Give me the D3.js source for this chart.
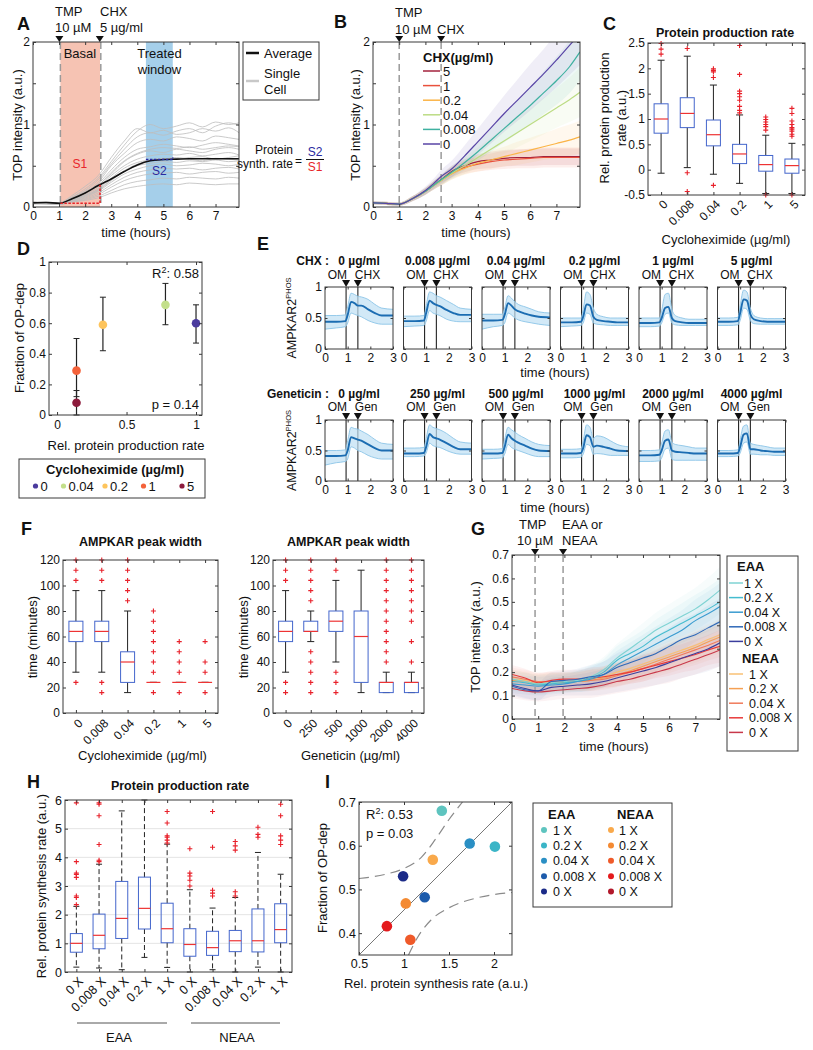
<!DOCTYPE html>
<html><head><meta charset="utf-8">
<script src="https://cdnjs.cloudflare.com/ajax/libs/d3/7.8.5/d3.min.js"></script>
<style>body{margin:0;background:#fff}</style>
</head><body>
<script>
// ================= DATA =================
// Panel A
const tA = [0,0.5,1,1.5,2,2.5,3,3.5,4,4.5,5,5.5,6,6.5,7,7.5,7.9];
const aAvg = [0.05,0.055,0.045,0.10,0.17,0.26,0.34,0.43,0.51,0.56,0.575,0.58,0.585,0.585,0.585,0.585,0.585];
const aCells = [
 [0.05,0.05,0.04,0.12,0.22,0.35,0.55,0.75,0.92,1.0,0.95,0.98,1.02,0.97,1.03,1.0,1.02],
 [0.06,0.06,0.05,0.14,0.25,0.38,0.6,0.8,0.95,0.9,0.93,0.88,0.9,0.95,0.92,0.96,0.9],
 [0.04,0.05,0.04,0.1,0.18,0.3,0.5,0.65,0.78,0.82,0.8,0.85,0.83,0.8,0.86,0.84,0.82],
 [0.05,0.04,0.04,0.1,0.17,0.28,0.45,0.6,0.7,0.73,0.76,0.74,0.72,0.75,0.78,0.76,0.74],
 [0.06,0.05,0.05,0.11,0.19,0.27,0.4,0.55,0.64,0.68,0.66,0.7,0.68,0.66,0.7,0.72,0.7],
 [0.05,0.05,0.04,0.09,0.15,0.24,0.38,0.5,0.58,0.62,0.64,0.63,0.65,0.62,0.64,0.66,0.63],
 [0.04,0.04,0.03,0.08,0.14,0.22,0.35,0.47,0.54,0.57,0.59,0.58,0.6,0.61,0.58,0.6,0.62],
 [0.05,0.05,0.04,0.08,0.13,0.2,0.32,0.43,0.5,0.53,0.55,0.54,0.56,0.55,0.57,0.55,0.56],
 [0.05,0.04,0.04,0.08,0.12,0.19,0.3,0.4,0.46,0.5,0.52,0.5,0.51,0.53,0.52,0.5,0.52],
 [0.04,0.04,0.03,0.07,0.11,0.17,0.27,0.36,0.42,0.45,0.47,0.46,0.47,0.45,0.47,0.48,0.46],
 [0.05,0.05,0.04,0.07,0.1,0.15,0.24,0.32,0.37,0.4,0.41,0.42,0.4,0.42,0.43,0.41,0.42],
 [0.04,0.04,0.03,0.06,0.09,0.13,0.2,0.27,0.31,0.33,0.35,0.34,0.36,0.35,0.34,0.36,0.35],
 [0.05,0.04,0.04,0.06,0.08,0.11,0.17,0.22,0.25,0.27,0.28,0.27,0.29,0.28,0.27,0.28,0.28],
 [0.06,0.05,0.05,0.12,0.2,0.33,0.52,0.7,0.85,0.9,0.87,0.92,0.95,0.9,0.98,1.02,0.99],
 [0.05,0.05,0.04,0.1,0.16,0.26,0.42,0.56,0.65,0.7,0.72,0.71,0.73,0.7,0.72,0.74,0.73],
 [0.04,0.04,0.04,0.09,0.14,0.21,0.33,0.44,0.52,0.56,0.58,0.6,0.58,0.56,0.59,0.58,0.57]
];
const aBasal = [1.05, 2.57];
const aTreated = [4.33, 5.36];
const aMarks = [1.05, 2.6];
const aS1 = [0.045, 0.27];
const aS2 = [0.575, 0.6];

// Panel B
const tB = [0,0.5,1,1.5,2,2.3,2.6,3,3.5,4,4.5,5,5.5,6,6.5,7,7.5,7.9];
const bLabels = ['5','1','0.2','0.04','0.008','0'];
const bColors = ['#a3223c','#e9513c','#fbb446','#bcdc84','#3fb1a1','#5844a6'];
const bMeans = [
 [0.05,0.045,0.035,0.10,0.19,0.26,0.33,0.43,0.50,0.55,0.57,0.59,0.60,0.60,0.61,0.61,0.61,0.61],
 [0.05,0.045,0.035,0.10,0.19,0.26,0.32,0.41,0.48,0.52,0.55,0.57,0.58,0.59,0.60,0.60,0.60,0.60],
 [0.05,0.045,0.035,0.10,0.19,0.26,0.32,0.40,0.47,0.53,0.57,0.61,0.65,0.69,0.73,0.77,0.81,0.85],
 [0.05,0.045,0.035,0.10,0.19,0.26,0.32,0.41,0.50,0.60,0.70,0.80,0.90,1.00,1.10,1.20,1.30,1.39],
 [0.05,0.045,0.035,0.10,0.19,0.26,0.33,0.42,0.54,0.67,0.81,0.95,1.09,1.23,1.38,1.53,1.70,1.88],
 [0.05,0.045,0.035,0.10,0.20,0.28,0.37,0.46,0.62,0.79,0.96,1.13,1.29,1.45,1.61,1.78,1.96,2.10]
];
const bSds = [
 [0.02,0.02,0.02,0.03,0.04,0.05,0.06,0.07,0.08,0.09,0.1,0.1,0.1,0.1,0.1,0.1,0.1,0.1],
 [0.02,0.02,0.02,0.03,0.04,0.05,0.06,0.07,0.08,0.09,0.1,0.11,0.11,0.12,0.12,0.12,0.12,0.12],
 [0.02,0.02,0.02,0.03,0.04,0.05,0.06,0.07,0.08,0.1,0.11,0.12,0.14,0.15,0.16,0.18,0.19,0.2],
 [0.02,0.02,0.02,0.03,0.04,0.05,0.06,0.08,0.1,0.12,0.14,0.16,0.18,0.2,0.22,0.24,0.27,0.3],
 [0.02,0.02,0.02,0.03,0.04,0.05,0.06,0.07,0.09,0.11,0.14,0.17,0.2,0.23,0.26,0.29,0.32,0.34],
 [0.02,0.02,0.02,0.03,0.05,0.06,0.08,0.1,0.13,0.16,0.19,0.22,0.25,0.28,0.3,0.33,0.36,0.38]
];
const bMarks = [1.0, 2.6];

// Panel C
const cCats = ['0','0.008','0.04','0.2','1','5'];
const cQ1 = [0.72,0.83,0.47,0.12,-0.03,-0.07];
const cMed = [1.0,1.11,0.69,0.31,0.10,0.08];
const cQ3 = [1.30,1.42,0.98,0.50,0.28,0.21];
const cLo = [-0.07,0.04,-0.09,-0.27,-0.47,-0.47];
const cHi = [2.16,2.24,1.67,1.08,0.68,0.52];
const cOut = [[2.28,2.38,2.49],[2.39,-0.06,-0.43],[1.99,1.96,1.93,1.82,-0.31],
  [2.45,1.88,1.55,1.5,1.44,1.37,1.25,1.17,1.12],[1.04,0.99,0.94,0.89,0.85,0.78,-0.5],
  [1.21,1.11,0.96,0.89,0.83,0.8,0.76,0.7,0.66,-0.5]];

// Panel D
const dCats = ['0','0.04','0.2','1','5'];
const dColors = ['#4b3b9e','#c3df8a','#fdc45c','#f4623a','#8c1b3c'];
const dX = [1.0, 0.78, 0.33, 0.14, 0.14];
const dY = [0.60, 0.72, 0.59, 0.29, 0.08];
const dLo = [0.47, 0.59, 0.42, 0.12, 0.0];
const dHi = [0.72, 0.86, 0.77, 0.50, 0.16];

// Panel E
const eT = [0,0.5,0.9,1.0,1.15,1.3,1.45,1.6,1.9,2.2,2.5,3.0];
const eChxTitles = ['0 µg/ml','0.008 µg/ml','0.04 µg/ml','0.2 µg/ml','1 µg/ml','5 µg/ml'];
const eGenTitles = ['0 µg/ml','250 µg/ml','500 µg/ml','1000 µg/ml','2000 µg/ml','4000 µg/ml'];
const eChxMean = [
 [0.44,0.44,0.45,0.55,0.76,0.74,0.70,0.70,0.64,0.58,0.54,0.54],
 [0.45,0.45,0.46,0.58,0.78,0.74,0.71,0.69,0.63,0.58,0.55,0.55],
 [0.46,0.46,0.47,0.55,0.74,0.70,0.64,0.61,0.57,0.54,0.52,0.51],
 [0.43,0.43,0.44,0.52,0.72,0.70,0.52,0.47,0.45,0.44,0.43,0.43],
 [0.42,0.42,0.43,0.50,0.66,0.68,0.50,0.45,0.43,0.42,0.42,0.42],
 [0.44,0.44,0.45,0.58,0.80,0.78,0.56,0.48,0.45,0.44,0.44,0.44]];
const eChxLo = [
 [0.32,0.34,0.36,0.42,0.58,0.56,0.54,0.52,0.46,0.42,0.40,0.40],
 [0.36,0.37,0.38,0.45,0.62,0.58,0.56,0.54,0.48,0.45,0.44,0.44],
 [0.32,0.36,0.38,0.42,0.58,0.55,0.50,0.47,0.44,0.42,0.40,0.38],
 [0.36,0.37,0.38,0.42,0.58,0.56,0.42,0.40,0.39,0.38,0.38,0.38],
 [0.36,0.36,0.37,0.42,0.56,0.58,0.42,0.39,0.38,0.38,0.38,0.38],
 [0.38,0.38,0.39,0.46,0.66,0.64,0.46,0.41,0.40,0.40,0.40,0.40]];
const eChxHi = [
 [0.54,0.54,0.55,0.68,0.90,0.88,0.85,0.84,0.80,0.72,0.66,0.64],
 [0.53,0.53,0.54,0.70,0.92,0.90,0.86,0.84,0.78,0.72,0.66,0.64],
 [0.56,0.56,0.56,0.66,0.86,0.82,0.76,0.72,0.68,0.64,0.60,0.58],
 [0.50,0.50,0.50,0.64,0.92,0.88,0.66,0.56,0.52,0.50,0.50,0.50],
 [0.50,0.50,0.50,0.62,0.88,0.90,0.64,0.54,0.50,0.48,0.48,0.48],
 [0.50,0.50,0.51,0.70,0.95,0.92,0.66,0.54,0.50,0.49,0.49,0.49]];
const eGenMean = [
 [0.41,0.41,0.42,0.50,0.72,0.70,0.68,0.66,0.60,0.54,0.50,0.50],
 [0.45,0.45,0.46,0.56,0.77,0.72,0.70,0.68,0.62,0.56,0.52,0.52],
 [0.45,0.45,0.46,0.56,0.76,0.70,0.66,0.63,0.58,0.53,0.50,0.49],
 [0.45,0.45,0.46,0.54,0.75,0.72,0.56,0.58,0.56,0.53,0.50,0.49],
 [0.42,0.42,0.43,0.50,0.66,0.68,0.50,0.48,0.47,0.46,0.45,0.45],
 [0.45,0.45,0.46,0.56,0.76,0.78,0.52,0.52,0.50,0.49,0.48,0.48]];
const eGenLo = [
 [0.26,0.30,0.32,0.36,0.56,0.54,0.50,0.48,0.42,0.38,0.36,0.36],
 [0.40,0.40,0.41,0.46,0.62,0.58,0.56,0.55,0.50,0.46,0.44,0.44],
 [0.36,0.37,0.38,0.44,0.60,0.55,0.52,0.50,0.46,0.42,0.40,0.40],
 [0.38,0.38,0.39,0.44,0.60,0.58,0.44,0.45,0.44,0.42,0.42,0.42],
 [0.32,0.32,0.33,0.38,0.52,0.54,0.36,0.34,0.34,0.34,0.34,0.34],
 [0.40,0.40,0.41,0.46,0.62,0.64,0.44,0.44,0.43,0.43,0.42,0.42]];
const eGenHi = [
 [0.50,0.50,0.51,0.66,0.88,0.86,0.85,0.82,0.76,0.68,0.62,0.60],
 [0.54,0.54,0.55,0.70,0.92,0.88,0.86,0.84,0.78,0.70,0.64,0.62],
 [0.52,0.52,0.53,0.68,0.88,0.84,0.80,0.76,0.70,0.64,0.60,0.58],
 [0.52,0.52,0.53,0.66,0.92,0.88,0.70,0.74,0.72,0.66,0.60,0.56],
 [0.50,0.50,0.51,0.62,0.82,0.84,0.64,0.60,0.58,0.56,0.54,0.54],
 [0.50,0.50,0.51,0.68,0.90,0.92,0.62,0.60,0.58,0.56,0.54,0.54]];
const eMarks = [0.93, 1.45];

// Panel F
const fCatsL = ['0','0.008','0.04','0.2','1','5'];
const fQ1L = [56,56,24,24,24,24];
const fMedL = [64,64,40,24,24,24];
const fQ3L = [72,72,48,24,24,24];
const fLoL = [32,32,16,24,24,24];
const fHiL = [96,96,80,24,24,24];
const fOutL = [[104,112,120,24],[104,112,120,24,16],[88,96,104,112,120],
  [16,32,40,48,56,64,72,80],[16,32,40,48,56],[16,32,40,56]];
const fCatsR = ['0','250','500','1000','2000','4000'];
const fQ1R = [56,64,64,24,16,16];
const fMedR = [64,64,72,60,24,24];
const fQ3R = [72,72,80,80,24,24];
const fLoR = [32,56,40,16,16,16];
const fHiR = [96,80,104,112,32,32];
const fOutR = [[104,112,120,24,16],[88,96,104,112,120,48,40,32,24,16],[112,120,32,24,16],[],
  [40,48,56,64,72,80,88,96,104,112,120],[40,56,72,80,88,96,104,112,120]];

// Panel G
const tG = [0,0.5,1,1.5,2,2.5,3,3.5,4,4.5,5,5.5,6,6.5,7,7.5,7.94];
const gLabels = ['1 X','0.2 X','0.04 X','0.008 X','0 X'];
const gEaaColors = ['#7fd3d3','#45bccf','#3a9bd0','#2f69b8','#3b3d9d'];
const gNeaaColors = ['#f8c174','#f5a053','#f07a5a','#e83a3a','#c8384a'];
const gEaa = [
 [0.17,0.16,0.15,0.155,0.16,0.165,0.18,0.21,0.26,0.30,0.34,0.38,0.41,0.44,0.47,0.51,0.55],
 [0.16,0.155,0.145,0.15,0.155,0.16,0.175,0.20,0.25,0.28,0.31,0.35,0.38,0.41,0.44,0.47,0.50],
 [0.15,0.145,0.14,0.145,0.15,0.16,0.17,0.19,0.23,0.26,0.29,0.32,0.35,0.38,0.42,0.45,0.48],
 [0.14,0.125,0.12,0.16,0.165,0.17,0.18,0.19,0.22,0.24,0.26,0.28,0.31,0.34,0.36,0.39,0.415],
 [0.145,0.13,0.12,0.135,0.14,0.145,0.15,0.16,0.175,0.19,0.205,0.22,0.24,0.26,0.28,0.30,0.325]];
const gNeaa = [
 [0.17,0.165,0.155,0.16,0.16,0.165,0.17,0.18,0.2,0.215,0.235,0.255,0.275,0.295,0.315,0.34,0.36],
 [0.165,0.16,0.15,0.155,0.155,0.16,0.165,0.175,0.19,0.205,0.225,0.245,0.265,0.285,0.305,0.33,0.35],
 [0.18,0.17,0.16,0.16,0.16,0.16,0.165,0.17,0.185,0.2,0.215,0.235,0.255,0.275,0.295,0.315,0.335],
 [0.19,0.175,0.155,0.165,0.17,0.17,0.175,0.18,0.19,0.2,0.215,0.23,0.245,0.26,0.275,0.295,0.31],
 [0.13,0.12,0.115,0.12,0.125,0.13,0.135,0.145,0.16,0.17,0.185,0.2,0.215,0.235,0.255,0.275,0.295]];
const gSdEaa = [0.04,0.04,0.04,0.04,0.04,0.045,0.05,0.055,0.06,0.065,0.07,0.075,0.08,0.085,0.09,0.095,0.1];
const gSdNeaa = [0.04,0.04,0.04,0.04,0.04,0.04,0.045,0.045,0.05,0.05,0.055,0.055,0.06,0.06,0.065,0.065,0.07];
const gMarks = [0.88, 1.95];

// Panel H
const hCats = ['E0','E1','E2','E3','E4','N0','N1','N2','N3','N4'];
const hTickLabels = ['0 X','0.008 X','0.04 X','0.2 X','1 X','0 X','0.008 X','0.04 X','0.2 X','1 X'];
const hQ1 = [0.69,0.81,1.17,1.5,1.02,0.55,0.58,0.71,0.7,1.02];
const hMed = [1.0,1.28,1.87,2.22,1.51,0.96,0.85,1.09,1.09,1.48];
const hQ3 = [1.34,2.02,3.16,3.31,2.4,1.51,1.42,1.45,2.2,2.38];
const hLo = [0.17,0.14,0.08,0.51,0.16,0,0.08,0,0.17,0];
const hHi = [2.29,3.76,5.62,6.0,4.46,2.87,2.23,2.6,4.17,3.41];
const hOut = [[2.35,2.6,2.65,3.3,3.4,3.45,3.85,5.9],[3.85,3.9,4.45,5.45,5.85,5.9],[],[],
  [4.5,4.6,4.7,4.75,5.2,5.6],[3.0,3.2,3.35,3.45,4.3],[2.65,2.75,2.85,4.35,5.6],
  [2.65,2.8,4.25,4.4,4.55],[4.7,4.8,5.05],[4.45,4.6,4.75,5.45,5.85]];

// Panel I
const iLabels = ['1 X','0.2 X','0.04 X','0.008 X','0 X'];
const iEaaColors = ['#5ec4bf','#3bb5c7','#2a8fc4','#1d5bab','#1b2b88'];
const iNeaaColors = ['#f9a94b','#f48a32','#ef5a2a','#e41a1c','#b2182b'];
const iEaaX = [1.42, 2.01, 1.73, 1.23, 0.99];
const iEaaY = [0.68, 0.598, 0.605, 0.482, 0.53];
const iNeaaX = [1.32, 1.02, 1.07, 0.81, null];
const iNeaaY = [0.568, 0.468, 0.385, 0.416, null];
const iFitX = [0.5, 2.2], iFitY = [0.35, 0.70];
const iCiUpX = [0.5,0.8,1.0,1.2,1.35,1.5,1.65], iCiUpY = [0.525,0.535,0.548,0.575,0.615,0.66,0.70];
const iCiLoX = [1.05,1.15,1.3,1.5,1.8,2.2], iCiLoY = [0.35,0.39,0.43,0.458,0.48,0.493];

// ================= DRAWING =================
const FONT = '"Liberation Sans", Arial, Helvetica, sans-serif';
const AX = '#3a3a3a', BOX = '#4466cc', MED = '#ee3333', OUT = '#e8202a';
const svg = d3.select('body').append('svg').attr('width',813).attr('height',1050)
  .style('font-family', FONT).style('background','#fff');
const defs = svg.append('defs');
let clipN = 0;
function clip(g, x, y, w, h){
  const id = 'clp' + (clipN++);
  defs.append('clipPath').attr('id', id).append('rect').attr('x',x).attr('y',y).attr('width',w).attr('height',h);
  return g.append('g').attr('clip-path', `url(#${id})`);
}
function txt(g, x, y, s, o = {}){
  const t = g.append('text').attr('x',x).attr('y',y).text(s)
    .attr('font-size', o.size || 13).attr('fill', o.fill || '#111')
    .attr('text-anchor', o.anchor || 'start').attr('font-weight', o.bold ? 'bold' : 'normal')
    .attr('font-family', FONT);
  if (o.rot) t.attr('transform', `rotate(${o.rot},${x},${y})`);
  return t;
}
function tri(g, x, yTip, hw = 4, h = 6){
  g.append('path').attr('d', `M${x-hw},${yTip-h}L${x+hw},${yTip-h}L${x},${yTip}Z`).attr('fill','#111');
}
function axes(g, xs, ys, o = {}){
  const [yb, yt] = ys.range(), [xl, xr] = xs.range();
  const tk = o.tk ?? 3, fs = o.fs ?? 12;
  const xt = o.xt ?? (xs.ticks ? xs.ticks() : xs.domain());
  const ytv = o.yt ?? ys.ticks();
  const mk = (a, vals, fmt, pad) => a.tickValues(vals).tickSize(-tk).tickPadding(pad).tickFormat(fmt);
  const gb = g.append('g').attr('transform',`translate(0,${yb})`).call(mk(d3.axisBottom(xs), xt, o.xf ?? (d=>d), o.xpad ?? 4));
  const gt = g.append('g').attr('transform',`translate(0,${yt})`).call(mk(d3.axisTop(xs), xt, ()=>'', 0));
  const gl = g.append('g').attr('transform',`translate(${xl},0)`).call(mk(d3.axisLeft(ys), ytv, o.yf ?? (d=>d), o.ypad ?? 3));
  const gr = g.append('g').attr('transform',`translate(${xr},0)`).call(mk(d3.axisRight(ys), ytv, ()=>'', 0));
  for (const a of [gb, gt, gl, gr]){
    a.select('.domain').remove();
    a.selectAll('line').attr('stroke', AX);
    a.selectAll('text').attr('font-size', fs).attr('fill','#111').attr('font-family', FONT);
  }
  if (o.noXLab) gb.selectAll('text').remove();
  if (o.noYLab) gl.selectAll('text').remove();
  if (o.rotX) gb.selectAll('text').attr('x',0).attr('y',0).attr('dy','0.35em').attr('text-anchor','end')
      .attr('transform', `translate(4,${o.rotX}) rotate(-45)`);
  g.append('rect').attr('x',xl).attr('y',yt).attr('width',xr-xl).attr('height',yb-yt)
    .attr('fill','none').attr('stroke',AX).attr('stroke-width',1);
  return {gb, gl};
}
function boxes(g, xs, ys, cats, q1, med, q3, lo, hi, outs, o = {}){
  const w = o.w || 12, dash = o.dash || null;
  const L = (x1,y1,x2,y2,col,sw,da) => g.append('line').attr('x1',x1).attr('y1',y1).attr('x2',x2).attr('y2',y2)
      .attr('stroke',col).attr('stroke-width',sw || 1).attr('stroke-dasharray', da || null);
  cats.forEach((c, i) => {
    const cx = xs(c);
    L(cx, ys(q3[i]), cx, ys(hi[i]), '#222', 1, dash);
    L(cx, ys(q1[i]), cx, ys(lo[i]), '#222', 1, dash);
    L(cx - w/4, ys(hi[i]), cx + w/4, ys(hi[i]), '#222', 1);
    L(cx - w/4, ys(lo[i]), cx + w/4, ys(lo[i]), '#222', 1);
    g.append('rect').attr('x', cx - w/2).attr('y', ys(q3[i])).attr('width', w)
      .attr('height', Math.max(0, ys(q1[i]) - ys(q3[i]))).attr('fill','none').attr('stroke',BOX).attr('stroke-width',1);
    L(cx - w/2, ys(med[i]), cx + w/2, ys(med[i]), MED, 1.2);
    outs[i].forEach(v => {
      const y = ys(v);
      g.append('path').attr('d', `M${cx-2.5},${y}H${cx+2.5}M${cx},${y-2.5}V${y+2.5}`).attr('stroke',OUT).attr('stroke-width',1.1);
    });
  });
}
function letter(x, y, s){ txt(svg, x, y, s, {size:18, bold:true}); }

// ---------- A ----------
{
  const g = svg.append('g');
  const x = d3.scaleLinear().domain([0,7.9]).range([33,239]);
  const y = d3.scaleLinear().domain([0,2]).range([207,42]);
  g.append('rect').attr('x',x(aBasal[0])).attr('y',y(2)).attr('width',x(aBasal[1])-x(aBasal[0])).attr('height',y(0)-y(2)).attr('fill','#f6c3b3');
  g.append('rect').attr('x',x(aTreated[0])).attr('y',y(2)).attr('width',x(aTreated[1])-x(aTreated[0])).attr('height',y(0)-y(2)).attr('fill','#a5cfea');
  const c = clip(g, 33, 42, 206, 165);
  const ln = d3.line().x((d,i)=>x(tA[i])).y(d=>y(d)).curve(d3.curveMonotoneX);
  aCells.forEach(v => c.append('path').attr('d', ln(v)).attr('fill','none').attr('stroke','#bdbdbd').attr('stroke-width',0.9).attr('opacity',0.9));
  aMarks.forEach(t => c.append('line').attr('x1',x(t)).attr('x2',x(t)).attr('y1',y(2)).attr('y2',y(0))
    .attr('stroke','#9a9a9a').attr('stroke-width',1.5).attr('stroke-dasharray','7,4'));
  c.append('path').attr('d', ln(aAvg)).attr('fill','none').attr('stroke','#111').attr('stroke-width',1.6);
  c.append('path').attr('d', `M${x(aBasal[0])},${y(aS1[0])}H${x(aBasal[1])}V${y(aS1[1])}`)
    .attr('fill','none').attr('stroke','#e8262a').attr('stroke-width',1.6).attr('stroke-dasharray','2.5,1.5');
  c.append('path').attr('d', `M${x(aTreated[0])},${y(aS2[0])}H${x(aTreated[1])}V${y(aS2[1])}`)
    .attr('fill','none').attr('stroke','#2a2aa0').attr('stroke-width',1.6).attr('stroke-dasharray','2.5,1.5');
  axes(g, x, y, {xt:[0,1,2,3,4,5,6,7], yt:[0,0.5,1,1.5,2], yf:d=>Number.isInteger(d)?d:''});
  txt(g, x(1.8), 58, 'Basal', {anchor:'middle'});
  txt(g, x(4.85), 58, 'Treated', {anchor:'middle'});
  txt(g, x(4.85), 74, 'window', {anchor:'middle'});
  txt(g, x(1.8), 168, 'S1', {anchor:'middle', fill:'#e8262a', size:12});
  txt(g, x(4.85), 175, 'S2', {anchor:'middle', fill:'#2a2aa0', size:12});
  aMarks.forEach(t => tri(g, x(t)-1, 42));
  txt(g, 55, 16, 'TMP'); txt(g, 55, 32, '10 µM');
  txt(g, 100, 16, 'CHX'); txt(g, 100, 32, '5 µg/ml');
  txt(g, 22, 125, 'TOP intensity (a.u.)', {anchor:'middle', rot:-90});
  txt(g, 136, 237, 'time (hours)', {anchor:'middle'});
  g.append('rect').attr('x',243).attr('y',42).attr('width',76).attr('height',58).attr('fill','#fff').attr('stroke',AX);
  g.append('line').attr('x1',246).attr('x2',259).attr('y1',53).attr('y2',53).attr('stroke','#111').attr('stroke-width',2.5);
  txt(g, 264, 58, 'Average');
  g.append('line').attr('x1',246).attr('x2',259).attr('y1',81).attr('y2',81).attr('stroke','#c8c8c8').attr('stroke-width',2.5);
  txt(g, 264, 78, 'Single'); txt(g, 264, 94, 'Cell');
  txt(g, 293, 154, 'Protein', {anchor:'end', size:12});
  txt(g, 293, 168, 'synth. rate', {anchor:'end', size:12});
  txt(g, 295, 165, '=', {size:12});
  txt(g, 315, 156, 'S2', {anchor:'middle', fill:'#2a2aa0', size:12});
  g.append('line').attr('x1',306).attr('x2',324).attr('y1',159.5).attr('y2',159.5).attr('stroke','#111');
  txt(g, 315, 171, 'S1', {anchor:'middle', fill:'#e8262a', size:12});
  letter(17, 30, 'A');
}

// ---------- B ----------
{
  const g = svg.append('g');
  const x = d3.scaleLinear().domain([0,7.9]).range([373,580]);
  const y = d3.scaleLinear().domain([0,2]).range([207,42]);
  const c = clip(g, 373, 42, 207, 165);
  const ln = d3.line().x((d,i)=>x(tB[i])).y(d=>y(d)).curve(d3.curveMonotoneX);
  bMeans.forEach((m, k) => {
    const ar = d3.area().x((d,i)=>x(tB[i])).y0((d,i)=>y(d - bSds[k][i])).y1((d,i)=>y(d + bSds[k][i])).curve(d3.curveMonotoneX);
    c.append('path').attr('d', ar(m)).attr('fill', bColors[k]).attr('opacity', 0.09);
  });
  bMarks.forEach(t => c.append('line').attr('x1',x(t)).attr('x2',x(t)).attr('y1',y(2)).attr('y2',y(0))
    .attr('stroke','#9a9a9a').attr('stroke-width',1.5).attr('stroke-dasharray','7,4'));
  bMeans.forEach((m, k) => c.append('path').attr('d', ln(m)).attr('fill','none').attr('stroke', bColors[k]).attr('stroke-width',1.2));
  axes(g, x, y, {xt:[0,1,2,3,4,5,6,7], yt:[0,0.5,1,1.5,2], yf:d=>Number.isInteger(d)?d:''});
  bMarks.forEach(t => tri(g, x(t), 42));
  txt(g, 395, 17, 'TMP'); txt(g, 395, 34, '10 µM'); txt(g, 437, 34, 'CHX');
  txt(g, 360, 125, 'TOP intensity (a.u.)', {anchor:'middle', rot:-90});
  txt(g, 476, 237, 'time (hours)', {anchor:'middle'});
  txt(g, 423, 62, 'CHX(µg/ml)', {bold:true});
  bLabels.forEach((l, k) => {
    const yy = 71 + k * 14.6;
    g.append('line').attr('x1',423).attr('x2',440).attr('y1',yy).attr('y2',yy).attr('stroke',bColors[k]).attr('stroke-width',1.5);
    txt(g, 443, yy + 5, l);
  });
  letter(334, 28, 'B');
}

// ---------- C ----------
{
  const g = svg.append('g');
  const x = d3.scalePoint().domain(cCats).range([648,805]).padding(0.5);
  const y = d3.scaleLinear().domain([-0.5,2.5]).range([195,43]);
  const c = clip(g, 644, 40, 165, 160);
  boxes(c, x, y, cCats, cQ1, cMed, cQ3, cLo, cHi, cOut, {w:14});
  axes(g, x, y, {yt:[-0.5,0,0.5,1,1.5,2,2.5], rotX:7});
  txt(g, 725, 37, 'Protein production rate', {anchor:'middle', bold:true, size:12.5});
  txt(g, 609, 118, 'Rel. protein production', {anchor:'middle', rot:-90});
  txt(g, 626, 118, 'rate (a.u.)', {anchor:'middle', rot:-90});
  txt(g, 726, 244, 'Cycloheximide (µg/ml)', {anchor:'middle'});
  letter(603, 30, 'C');
}

// ---------- D ----------
{
  const g = svg.append('g');
  const x = d3.scaleLinear().domain([-0.058,1.043]).range([49,202]);
  const y = d3.scaleLinear().domain([0,1]).range([415,262]);
  dCats.forEach((cat, i) => {
    const cx = x(dX[i]);
    g.append('line').attr('x1',cx).attr('x2',cx).attr('y1',y(dLo[i])).attr('y2',y(dHi[i])).attr('stroke','#222').attr('stroke-width',1.2);
    [dLo[i], dHi[i]].forEach(v => g.append('line').attr('x1',cx-3).attr('x2',cx+3).attr('y1',y(v)).attr('y2',y(v)).attr('stroke','#222'));
  });
  dCats.forEach((cat, i) => g.append('circle').attr('cx', x(dX[i])).attr('cy', y(dY[i])).attr('r', 4.3).attr('fill', dColors[i]));
  axes(g, x, y, {xt:[0,0.5,1], yt:[0,0.2,0.4,0.6,0.8,1], xpad:5});
  const r2 = txt(g, 199, 278, 'R', {anchor:'end'});
  r2.append('tspan').text('2').attr('font-size',9).attr('dy',-5);
  r2.append('tspan').text(': 0.58').attr('dy',5);
  txt(g, 199, 409, 'p = 0.14', {anchor:'end'});
  txt(g, 24, 338, 'Fraction of OP-dep', {anchor:'middle', rot:-90});
  txt(g, 126, 450, 'Rel. protein production rate', {anchor:'middle'});
  g.append('rect').attr('x',19).attr('y',459).attr('width',186).attr('height',39).attr('fill','#fff').attr('stroke',AX);
  txt(g, 115, 474, 'Cycloheximide (µg/ml)', {anchor:'middle', bold:true});
  const lx = [35.5, 63.5, 105, 143.5, 182];
  dCats.forEach((cat, i) => {
    g.append('circle').attr('cx', lx[i]).attr('cy', 486).attr('r', 2.6).attr('fill', dColors[i]);
    txt(g, lx[i] + 5, 491, cat);
  });
  letter(17, 255, 'D');
}

// ---------- E ----------
{
  const g = svg.append('g');
  const x0 = 325, w = 68, step = 78.5;
  const rows = [
    {top:287, bot:349, tY:265, omY:279, lab:'CHX :', sub:'CHX', titles:eChxTitles, mean:eChxMean, lo:eChxLo, hi:eChxHi, timeY:377},
    {top:420, bot:481, tY:398, omY:411, lab:'Geneticin :', sub:'Gen', titles:eGenTitles, mean:eGenMean, lo:eGenLo, hi:eGenHi, timeY:512}
  ];
  rows.forEach(r => {
    txt(g, 329, r.tY, r.lab, {anchor:'end', bold:true, size:12});
    for (let k = 0; k < 6; k++){
      const L = x0 + k * step;
      const x = d3.scaleLinear().domain([0,3]).range([L, L + w]);
      const y = d3.scaleLinear().domain([0,1]).range([r.bot, r.top]);
      const c = clip(g, L, r.top, w, r.bot - r.top);
      eMarks.forEach(t => c.append('line').attr('x1',x(t)).attr('x2',x(t)).attr('y1',r.top).attr('y2',r.bot).attr('stroke','#222').attr('stroke-width',1.1));
      const ar = d3.area().x((d,i)=>x(eT[i])).y0((d,i)=>y(r.lo[k][i])).y1((d,i)=>y(r.hi[k][i])).curve(d3.curveMonotoneX);
      c.append('path').attr('d', ar(r.mean[k])).attr('fill','#bfe0f3').attr('opacity',0.7);
      const ln = d3.line().x((d,i)=>x(eT[i])).y(d=>y(d)).curve(d3.curveMonotoneX);
      [r.lo[k], r.hi[k]].forEach(v => c.append('path').attr('d', ln(v)).attr('fill','none').attr('stroke','#8cc5e8').attr('stroke-width',0.9));
      c.append('path').attr('d', ln(r.mean[k])).attr('fill','none').attr('stroke','#1c6db2').attr('stroke-width',1.9);
      axes(g, x, y, {xt:[0,1,2,3], yt:[0,0.5,1], noYLab:k>0, fs:12, tk:2.5});
      txt(g, L + w/2, r.tY, r.titles[k], {anchor:'middle', bold:true, size:12});
      tri(g, x(eMarks[0]), r.top, 4, 7);
      tri(g, x(eMarks[1]), r.top, 4, 7);
      txt(g, x(eMarks[0]) + 1, r.omY, 'OM', {anchor:'end', size:12});
      txt(g, x(eMarks[1]) - 3, r.omY, r.sub, {size:12});
    }
    const yl = txt(g, 296, (r.top + r.bot)/2, 'AMPKAR2', {anchor:'middle', rot:-90, size:12.5});
    yl.append('tspan').text('PHOS').attr('font-size',7.5).attr('dy',-5);
    txt(g, 555, r.timeY, 'time (hours)', {anchor:'middle'});
  });
  letter(257, 250, 'E');
}

// ---------- F ----------
{
  const panels = [
    {x0:63, x1:218, cats:fCatsL, q1:fQ1L, med:fMedL, q3:fQ3L, lo:fLoL, hi:fHiL, out:fOutL, xl:'Cycloheximide (µg/ml)', ylx:37},
    {x0:273, x1:424, cats:fCatsR, q1:fQ1R, med:fMedR, q3:fQ3R, lo:fLoR, hi:fHiR, out:fOutR, xl:'Geneticin (µg/ml)', ylx:248}
  ];
  panels.forEach(p => {
    const g = svg.append('g');
    const x = d3.scalePoint().domain(p.cats).range([p.x0, p.x1]).padding(0.5);
    const y = d3.scaleLinear().domain([0,120]).range([713,560]);
    boxes(g, x, y, p.cats, p.q1, p.med, p.q3, p.lo, p.hi, p.out, {w:14});
    axes(g, x, y, {yt:[0,20,40,60,80,100,120], rotX:8});
    txt(g, (p.x0 + p.x1)/2, 546, 'AMPKAR peak width', {anchor:'middle', bold:true, size:12.5});
    txt(g, p.ylx, 637, 'time (minutes)', {anchor:'middle', rot:-90});
    txt(g, (p.x0 + p.x1)/2 + 2, 760, p.xl, {anchor:'middle'});
  });
  letter(21, 535, 'F');
}

// ---------- G ----------
{
  const g = svg.append('g');
  const x = d3.scaleLinear().domain([0,7.94]).range([512,720]);
  const y = d3.scaleLinear().domain([0,0.7]).range([719,555]);
  const c = clip(g, 512, 555, 208, 164);
  const mkArea = sd => d3.area().x((d,i)=>x(tG[i])).y0((d,i)=>y(d - sd[i])).y1((d,i)=>y(d + sd[i])).curve(d3.curveMonotoneX);
  gEaa.forEach((m,k) => c.append('path').attr('d', mkArea(gSdEaa)(m)).attr('fill', gEaaColors[k]).attr('opacity',0.06));
  gNeaa.forEach((m,k) => c.append('path').attr('d', mkArea(gSdNeaa)(m)).attr('fill', gNeaaColors[k]).attr('opacity',0.06));
  gMarks.forEach(t => c.append('line').attr('x1',x(t)).attr('x2',x(t)).attr('y1',555).attr('y2',719)
    .attr('stroke','#9a9a9a').attr('stroke-width',1.5).attr('stroke-dasharray','7,4'));
  const ln = d3.line().x((d,i)=>x(tG[i])).y(d=>y(d)).curve(d3.curveMonotoneX);
  gNeaa.forEach((m,k) => c.append('path').attr('d', ln(m)).attr('fill','none').attr('stroke', gNeaaColors[k]).attr('stroke-width',1.1));
  gEaa.forEach((m,k) => c.append('path').attr('d', ln(m)).attr('fill','none').attr('stroke', gEaaColors[k]).attr('stroke-width',1.1));
  axes(g, x, y, {xt:[0,1,2,3,4,5,6,7], yt:[0,0.1,0.2,0.3,0.4,0.5,0.6,0.7]});
  gMarks.forEach(t => tri(g, x(t), 555));
  txt(g, 519, 529, 'TMP'); txt(g, 517, 545, '10 µM');
  txt(g, 562, 529, 'EAA or'); txt(g, 562, 545, 'NEAA');
  txt(g, 480, 637, 'TOP intensity (a.u.)', {anchor:'middle', rot:-90});
  txt(g, 614, 751, 'time (hours)', {anchor:'middle'});
  g.append('rect').attr('x',727).attr('y',556).attr('width',71).attr('height',195).attr('fill','#fff').attr('stroke',AX);
  txt(g, 737, 571, 'EAA', {bold:true});
  gLabels.forEach((l,k) => {
    const yy = 583 + k * 14.6;
    g.append('line').attr('x1',729).attr('x2',743).attr('y1',yy).attr('y2',yy).attr('stroke',gEaaColors[k]).attr('stroke-width',1.5);
    txt(g, 744, yy + 4.5, l, {size:12.5});
  });
  txt(g, 742, 663, 'NEAA', {bold:true});
  gLabels.forEach((l,k) => {
    const yy = 674 + k * 14.6;
    g.append('line').attr('x1',729).attr('x2',743).attr('y1',yy).attr('y2',yy).attr('stroke',gNeaaColors[k]).attr('stroke-width',1.5);
    txt(g, 749, yy + 4.5, l, {size:12.5});
  });
  letter(471, 535, 'G');
}

// ---------- H ----------
{
  const g = svg.append('g');
  const x = d3.scalePoint().domain(hCats).range([65,292]).padding(0.5);
  const y = d3.scaleLinear().domain([0,6]).range([972,800]);
  [1,2,3,4,5].forEach(v => g.append('line').attr('x1',65).attr('x2',292).attr('y1',y(v)).attr('y2',y(v)).attr('stroke','#e4e4e4'));
  boxes(g, x, y, hCats, hQ1, hMed, hQ3, hLo, hHi, hOut, {w:12, dash:'5,3'});
  axes(g, x, y, {yt:[0,1,2,3,4,5,6], xf:(d,i)=>hTickLabels[i], rotX:7, fs:12.5});
  txt(g, 180, 790, 'Protein production rate', {anchor:'middle', bold:true, size:12.5});
  txt(g, 46, 886, 'Rel. protein synthesis rate (a.u.)', {anchor:'middle', rot:-90});
  g.append('line').attr('x1',77).attr('x2',167).attr('y1',1023).attr('y2',1023).attr('stroke','#555');
  g.append('line').attr('x1',191).attr('x2',280).attr('y1',1023).attr('y2',1023).attr('stroke','#555');
  txt(g, 119, 1042, 'EAA', {anchor:'middle'});
  txt(g, 237, 1042, 'NEAA', {anchor:'middle'});
  letter(27, 788, 'H');
}

// ---------- I ----------
{
  const g = svg.append('g');
  const x = d3.scaleLinear().domain([0.5,2.2]).range([359,512]);
  const y = d3.scaleLinear().domain([0.35,0.7]).range([955,802]);
  const c = clip(g, 359, 802, 153, 153);
  c.append('line').attr('x1',x(iFitX[0])).attr('y1',y(iFitY[0])).attr('x2',x(iFitX[1])).attr('y2',y(iFitY[1])).attr('stroke','#777').attr('stroke-width',1);
  const cl = (xs, ys) => d3.line().x((d,i)=>x(xs[i])).y((d,i)=>y(ys[i])).curve(d3.curveMonotoneX)(xs);
  c.append('path').attr('d', cl(iCiUpX, iCiUpY)).attr('fill','none').attr('stroke','#8a8a8a').attr('stroke-width',1.2).attr('stroke-dasharray','10,6');
  c.append('path').attr('d', cl(iCiLoX, iCiLoY)).attr('fill','none').attr('stroke','#8a8a8a').attr('stroke-width',1.2).attr('stroke-dasharray','10,6');
  iEaaX.forEach((v,k) => { if (v != null) c.append('circle').attr('cx',x(v)).attr('cy',y(iEaaY[k])).attr('r',5.3).attr('fill',iEaaColors[k]); });
  iNeaaX.forEach((v,k) => { if (v != null) c.append('circle').attr('cx',x(v)).attr('cy',y(iNeaaY[k])).attr('r',5.3).attr('fill',iNeaaColors[k]); });
  axes(g, x, y, {xt:[0.5,1,1.5,2], yt:[0.4,0.5,0.6,0.7], fs:12.5});
  const r2 = txt(g, 366, 819, 'R');
  r2.append('tspan').text('2').attr('font-size',9).attr('dy',-5);
  r2.append('tspan').text(': 0.53').attr('dy',5);
  txt(g, 366, 838, 'p = 0.03');
  txt(g, 327, 878, 'Fraction of OP-dep', {anchor:'middle', rot:-90});
  txt(g, 436, 988, 'Rel. protein synthesis rate (a.u.)', {anchor:'middle'});
  g.append('rect').attr('x',533).attr('y',803).attr('width',139).attr('height',104).attr('fill','#fff').attr('stroke',AX);
  txt(g, 548, 819, 'EAA', {bold:true});
  txt(g, 617, 819, 'NEAA', {bold:true});
  iLabels.forEach((l,k) => {
    const yy = 830 + k * 15.4;
    g.append('circle').attr('cx',544).attr('cy',yy).attr('r',3).attr('fill',iEaaColors[k]);
    txt(g, 553, yy + 4.5, l, {size:12.5});
    g.append('circle').attr('cx',611).attr('cy',yy).attr('r',3).attr('fill',iNeaaColors[k]);
    txt(g, 619, yy + 4.5, l, {size:12.5});
  });
  letter(325, 788, 'I');
}
</script>
</body></html>
